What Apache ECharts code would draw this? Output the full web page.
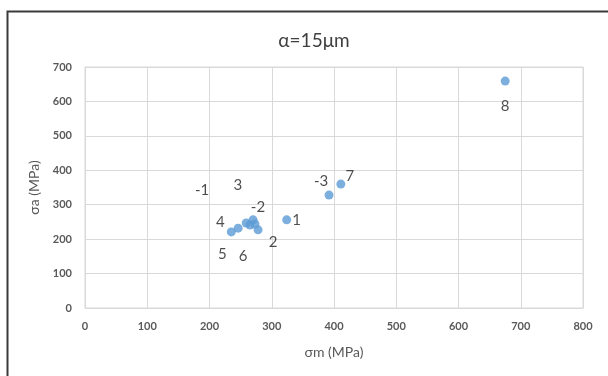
<!DOCTYPE html>
<html>
<head>
<meta charset="utf-8">
<script src="https://cdn.jsdelivr.net/npm/echarts@6/dist/echarts.min.js"></script>
<style>
html,body{margin:0;padding:0;background:#fff;}
#c{width:608px;height:376px;}
</style>
</head>
<body>
<div id="c"></div>
<script>
// Data
var pointNames = ['8', '7', '-3', '1', '5', '6', '4', '3', '-1', '-2', '2'];
var sigmaM = [675, 411, 392, 324, 235, 246, 259, 265, 270, 273, 278];
var sigmaA = [659, 360, 328, 256, 221, 232, 247, 241, 256, 244, 227];
var xTicks = [0, 100, 200, 300, 400, 500, 600, 700, 800];
var yTicks = [0, 100, 200, 300, 400, 500, 600, 700];

// Label placement (styling, not data)
var labelOffsets = {
  '8': [0, 25], '7': [9, -8], '-3': [-8, -14], '1': [10, 0],
  '5': [-9, 22], '6': [5, 28], '4': [-26, -1], '3': [-12, -40],
  '-1': [-51, -30], '-2': [3, -17], '2': [15, 12]
};

var seriesData = pointNames.map(function (n, i) {
  return {
    name: n,
    value: [sigmaM[i], sigmaA[i]],
    label: { offset: labelOffsets[n] }
  };
});

var chart = echarts.init(document.getElementById('c'), null, { renderer: 'canvas' });
var tickFont = { color: '#595959', fontSize: 11, fontFamily: 'Lato', fontWeight: 'bold' };
chart.setOption({
  animation: false,
  backgroundColor: '#fff',
  title: {
    text: 'α=15μm',
    left: 309, top: 26, textAlign: 'center',
    textStyle: { fontFamily: 'Lato', fontSize: 19, fontWeight: 'normal', color: '#404040' }
  },
  graphic: [{
    type: 'rect', left: 5, top: 9, z: 100, silent: true,
    shape: { width: 640, height: 420 },
    style: { fill: 'none', stroke: '#3a3a3a', lineWidth: 2 }
  }],
  grid: { left: 85, right: 25, top: 67, bottom: 68, show: true, borderColor: '#d9d9d9', borderWidth: 1 },
  xAxis: {
    type: 'value', min: xTicks[0], max: xTicks[xTicks.length - 1], interval: 100,
    name: 'σm (MPa)', nameLocation: 'middle', nameGap: 37,
    nameTextStyle: { fontFamily: 'Lato', fontSize: 14, color: '#595959' },
    axisLine: { show: true, lineStyle: { color: '#d9d9d9' } },
    axisTick: { show: false },
    axisLabel: Object.assign({ margin: 13 }, tickFont),
    splitLine: { show: true, lineStyle: { color: '#d9d9d9' } }
  },
  yAxis: {
    type: 'value', min: yTicks[0], max: yTicks[yTicks.length - 1], interval: 100,
    name: 'σa (MPa)', nameLocation: 'middle', nameGap: 44,
    nameTextStyle: { fontFamily: 'Lato', fontSize: 14, color: '#595959' },
    axisLine: { show: true, lineStyle: { color: '#d9d9d9' } },
    axisTick: { show: false },
    axisLabel: Object.assign({ margin: 13 }, tickFont),
    splitLine: { show: true, lineStyle: { color: '#d9d9d9' } }
  },
  series: [{
    type: 'scatter',
    symbol: 'circle',
    symbolSize: 9,
    itemStyle: { color: '#5B9BD5' },
    label: {
      show: true, position: 'inside',
      formatter: function (p) { return p.name; },
      fontFamily: 'Lato', fontSize: 15, color: '#1f1f1f'
    },
    data: seriesData
  }]
});
</script>
</body>
</html>
